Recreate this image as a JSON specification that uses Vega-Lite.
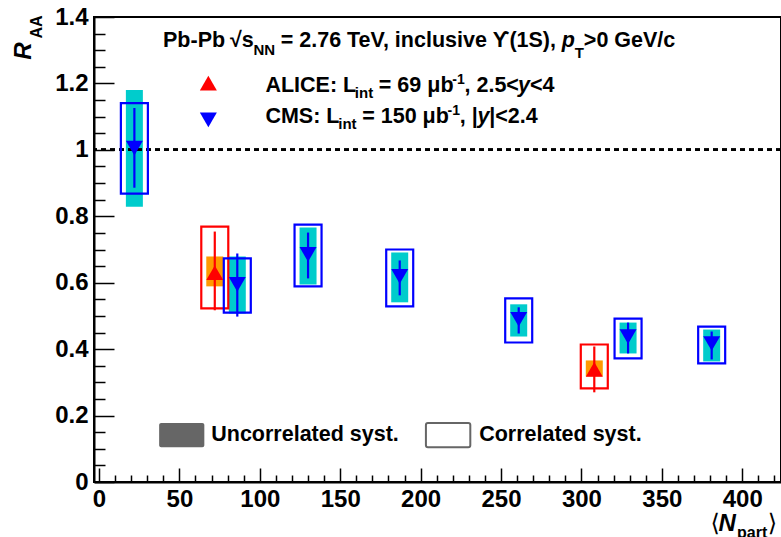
{
  "$schema": "https://vega.github.io/schema/vega-lite/v6.json",
  "width": 687,
  "height": 465,
  "autosize": {"type": "none"},
  "padding": {"left": 94, "top": 17, "right": 0, "bottom": 55},
  "background": "white",
  "config": {"view": {"stroke": "black", "strokeWidth": 2}},
  "resolve": {"axis": {"x": "independent", "y": "independent"}},
  "datasets": {
    "pts": [
      {"exp": "CMS", "npart": 22, "raa": 1.005, "stat_lo": 0.886, "stat_hi": 1.126, "unc_lo": 0.829, "unc_hi": 1.18, "cor_lo": 0.868, "cor_hi": 1.141},
      {"exp": "ALICE", "npart": 72, "raa": 0.63, "stat_lo": 0.517, "stat_hi": 0.754, "unc_lo": 0.589, "unc_hi": 0.679, "cor_lo": 0.523, "cor_hi": 0.769},
      {"exp": "CMS", "npart": 86, "raa": 0.595, "stat_lo": 0.498, "stat_hi": 0.688, "unc_lo": 0.507, "unc_hi": 0.679, "cor_lo": 0.51, "cor_hi": 0.673},
      {"exp": "CMS", "npart": 130, "raa": 0.685, "stat_lo": 0.613, "stat_hi": 0.751, "unc_lo": 0.595, "unc_hi": 0.766, "cor_lo": 0.589, "cor_hi": 0.775},
      {"exp": "CMS", "npart": 187, "raa": 0.619, "stat_lo": 0.562, "stat_hi": 0.667, "unc_lo": 0.541, "unc_hi": 0.691, "cor_lo": 0.529, "cor_hi": 0.7},
      {"exp": "CMS", "npart": 261, "raa": 0.49, "stat_lo": 0.447, "stat_hi": 0.526, "unc_lo": 0.438, "unc_hi": 0.535, "cor_lo": 0.42, "cor_hi": 0.553},
      {"exp": "ALICE", "npart": 308, "raa": 0.339, "stat_lo": 0.27, "stat_hi": 0.408, "unc_lo": 0.318, "unc_hi": 0.366, "cor_lo": 0.282, "cor_hi": 0.414},
      {"exp": "CMS", "npart": 329, "raa": 0.438, "stat_lo": 0.387, "stat_hi": 0.48, "unc_lo": 0.387, "unc_hi": 0.48, "cor_lo": 0.372, "cor_hi": 0.492},
      {"exp": "CMS", "npart": 381, "raa": 0.417, "stat_lo": 0.369, "stat_hi": 0.453, "unc_lo": 0.363, "unc_hi": 0.459, "cor_lo": 0.357, "cor_hi": 0.468}
    ],
    "legmarks": [
      {"exp": "ALICE", "x": 68, "y": 1.201},
      {"exp": "CMS", "x": 68, "y": 1.09}
    ],
    "legboxes": [
      {"kind": "uncorrelated", "x": 37.4, "x2": 65.5, "y": 0.105, "y2": 0.178},
      {"kind": "correlated", "x": 203.3, "x2": 230.9, "y": 0.105, "y2": 0.178}
    ],
    "ann": [
      {"role": "head", "t": "Pb-Pb", "x": 39.8, "y": 1.31},
      {"role": "head", "t": "√", "x": 81.5, "y": 1.31},
      {"role": "head", "t": "s", "x": 88.7, "y": 1.31},
      {"role": "sub", "t": "NN", "x": 96.1, "y": 1.286},
      {"role": "head", "t": "= 2.76 TeV, inclusive ϒ(1S),", "x": 113.0, "y": 1.31},
      {"role": "headit", "t": "p", "x": 287.8, "y": 1.31},
      {"role": "sub", "t": "T", "x": 295.8, "y": 1.277},
      {"role": "head", "t": ">0 GeV/c", "x": 301.5, "y": 1.31},
      {"role": "txt", "t": "ALICE: L", "x": 103.5, "y": 1.174},
      {"role": "sub", "t": "int", "x": 159.1, "y": 1.156},
      {"role": "txt", "t": "= 69 μb", "x": 174.0, "y": 1.174},
      {"role": "sup", "t": "-1", "x": 219.7, "y": 1.198},
      {"role": "txt", "t": ", 2.5<", "x": 227.3, "y": 1.174},
      {"role": "it", "t": "y", "x": 260.6, "y": 1.174},
      {"role": "txt", "t": "<4", "x": 268.0, "y": 1.174},
      {"role": "txt", "t": "CMS: L", "x": 103.5, "y": 1.081},
      {"role": "sub", "t": "int", "x": 148.8, "y": 1.063},
      {"role": "txt", "t": "= 150 μb", "x": 163.7, "y": 1.081},
      {"role": "sup", "t": "-1", "x": 216.7, "y": 1.105},
      {"role": "txt", "t": ", |", "x": 224.3, "y": 1.081},
      {"role": "it", "t": "y", "x": 235.3, "y": 1.081},
      {"role": "txt", "t": "|<2.4", "x": 242.7, "y": 1.081},
      {"role": "txt", "t": "Uncorrelated syst.", "x": 69.8, "y": 0.1235},
      {"role": "txt", "t": "Correlated syst.", "x": 236.4, "y": 0.1235},
      {"role": "bigit", "t": "N", "x": 385.2, "y": -0.1476},
      {"role": "bigsub", "t": "part", "x": 396.8, "y": -0.168},
      {"role": "bracket", "t": "⟨", "x": 380.3, "y": -0.1476},
      {"role": "bracket", "t": "⟩", "x": 415.8, "y": -0.1476}
    ],
    "ytitle": [
      {"role": "big", "t": "R", "x": -42.3, "y": 1.271},
      {"role": "small", "t": "AA", "x": -35.5, "y": 1.335}
    ]
  },
  "layer": [
    {
      "data": {"name": "pts"},
      "mark": {"type": "bar", "width": 17},
      "encoding": {
        "x": {
          "field": "npart", "type": "quantitative",
          "scale": {"domain": [0, 421], "nice": false, "zero": false},
          "axis": {
            "title": null, "orient": "bottom",
            "values": [0, 50, 100, 150, 200, 250, 300, 350, 400],
            "format": "d",
            "tickSize": -14,
            "labelPadding": 19,
            "labelFont": "Liberation Sans", "labelFontWeight": "bold", "labelFontSize": 24, "labelColor": "black",
            "tickColor": "black", "tickWidth": 1.5, "domainColor": "black", "domainWidth": 2,
            "labelOverlap": false, "labelFlush": false, "grid": false
          }
        },
        "y": {
          "field": "unc_lo", "type": "quantitative",
          "scale": {"domain": [0, 1.4], "nice": false, "zero": false},
          "axis": {
            "title": null, "orient": "left",
            "values": [0, 0.2, 0.4, 0.6, 0.8, 1, 1.2, 1.4],
            "format": "~g",
            "tickSize": -20,
            "labelPadding": 26,
            "labelFont": "Liberation Sans", "labelFontWeight": "bold", "labelFontSize": 24, "labelColor": "black",
            "tickColor": "black", "tickWidth": 1.5, "domainColor": "black", "domainWidth": 2,
            "labelOverlap": false, "labelFlush": false, "grid": false
          }
        },
        "y2": {"field": "unc_hi"},
        "fill": {"field": "exp", "type": "nominal", "scale": {"domain": ["ALICE", "CMS"], "range": ["#FF9900", "#00CCCC"]}, "legend": null}
      }
    },
    {
      "data": {"name": "pts"},
      "mark": {"type": "rule", "strokeDash": [5, 4], "strokeWidth": 2, "color": "black"},
      "encoding": {"y": {"datum": 1, "type": "quantitative", "axis": null}}
    },
    {
      "data": {"name": "pts"},
      "mark": {"type": "bar", "width": 27, "filled": false, "strokeWidth": 2.2},
      "encoding": {
        "x": {"field": "npart", "type": "quantitative",
          "axis": {"title": null, "orient": "bottom", "values": [10,20,30,40,60,70,80,90,110,120,130,140,160,170,180,190,210,220,230,240,260,270,280,290,310,320,330,340,360,370,380,390,410,420],
            "tickSize": -7, "labels": false, "domain": false, "tickColor": "black", "tickWidth": 1.5, "grid": false}},
        "y": {"field": "cor_lo", "type": "quantitative",
          "axis": {"title": null, "orient": "left", "values": [0.05,0.1,0.15,0.25,0.3,0.35,0.45,0.5,0.55,0.65,0.7,0.75,0.85,0.9,0.95,1.05,1.1,1.15,1.25,1.3,1.35],
            "tickSize": -11, "labels": false, "domain": false, "tickColor": "black", "tickWidth": 1.5, "grid": false}},
        "y2": {"field": "cor_hi"},
        "stroke": {"field": "exp", "type": "nominal", "scale": {"domain": ["ALICE", "CMS"], "range": ["#FF0000", "#0000FF"]}, "legend": null}
      }
    },
    {
      "data": {"name": "pts"},
      "mark": {"type": "rule", "strokeWidth": 2.2},
      "encoding": {
        "x": {"field": "npart", "type": "quantitative", "axis": null},
        "y": {"field": "stat_lo", "type": "quantitative", "axis": null},
        "y2": {"field": "stat_hi"},
        "color": {"field": "exp", "type": "nominal", "scale": {"domain": ["ALICE", "CMS"], "range": ["#FF0000", "#0000FF"]}, "legend": null}
      }
    },
    {
      "data": {"name": "pts"},
      "mark": {"type": "point", "filled": true, "size": 289, "opacity": 1},
      "encoding": {
        "x": {"field": "npart", "type": "quantitative", "axis": null},
        "y": {"field": "raa", "type": "quantitative", "axis": null},
        "color": {"field": "exp", "type": "nominal", "scale": {"domain": ["ALICE", "CMS"], "range": ["#FF0000", "#0000FF"]}, "legend": null},
        "shape": {"field": "exp", "type": "nominal", "scale": {"domain": ["ALICE", "CMS"], "range": ["triangle-up", "triangle-down"]}, "legend": null}
      }
    },
    {
      "data": {"name": "legmarks"},
      "mark": {"type": "point", "filled": true, "size": 289, "opacity": 1},
      "encoding": {
        "x": {"field": "x", "type": "quantitative", "axis": null},
        "y": {"field": "y", "type": "quantitative", "axis": null},
        "color": {"field": "exp", "type": "nominal", "scale": {"domain": ["ALICE", "CMS"], "range": ["#FF0000", "#0000FF"]}, "legend": null},
        "shape": {"field": "exp", "type": "nominal", "scale": {"domain": ["ALICE", "CMS"], "range": ["triangle-up", "triangle-down"]}, "legend": null}
      }
    },
    {
      "data": {"name": "legboxes"},
      "transform": [{"filter": "datum.kind == 'uncorrelated'"}],
      "mark": {"type": "rect", "color": "#666666", "cornerRadius": 2},
      "encoding": {
        "x": {"field": "x", "type": "quantitative", "axis": null},
        "x2": {"field": "x2"},
        "y": {"field": "y", "type": "quantitative", "axis": null},
        "y2": {"field": "y2"}
      }
    },
    {
      "data": {"name": "legboxes"},
      "transform": [{"filter": "datum.kind == 'correlated'"}],
      "mark": {"type": "rect", "fill": "white", "stroke": "#666666", "strokeWidth": 2, "cornerRadius": 2},
      "encoding": {
        "x": {"field": "x", "type": "quantitative", "axis": null},
        "x2": {"field": "x2"},
        "y": {"field": "y", "type": "quantitative", "axis": null},
        "y2": {"field": "y2"}
      }
    },
    {
      "data": {"name": "ann"},
      "transform": [{"filter": "datum.role == 'head'"}],
      "mark": {"type": "text", "align": "left", "baseline": "alphabetic", "font": "Liberation Sans", "fontWeight": "bold", "fontSize": 21.5, "color": "black"},
      "encoding": {"x": {"field": "x", "type": "quantitative", "axis": null}, "y": {"field": "y", "type": "quantitative", "axis": null}, "text": {"field": "t"}}
    },
    {
      "data": {"name": "ann"},
      "transform": [{"filter": "datum.role == 'headit'"}],
      "mark": {"type": "text", "align": "left", "baseline": "alphabetic", "font": "Liberation Sans", "fontWeight": "bold", "fontStyle": "italic", "fontSize": 21.5, "color": "black"},
      "encoding": {"x": {"field": "x", "type": "quantitative", "axis": null}, "y": {"field": "y", "type": "quantitative", "axis": null}, "text": {"field": "t"}}
    },
    {
      "data": {"name": "ann"},
      "transform": [{"filter": "datum.role == 'txt'"}],
      "mark": {"type": "text", "align": "left", "baseline": "alphabetic", "font": "Liberation Sans", "fontWeight": "bold", "fontSize": 21.5, "color": "black"},
      "encoding": {"x": {"field": "x", "type": "quantitative", "axis": null}, "y": {"field": "y", "type": "quantitative", "axis": null}, "text": {"field": "t"}}
    },
    {
      "data": {"name": "ann"},
      "transform": [{"filter": "datum.role == 'it'"}],
      "mark": {"type": "text", "align": "left", "baseline": "alphabetic", "font": "Liberation Sans", "fontWeight": "bold", "fontStyle": "italic", "fontSize": 21.5, "color": "black"},
      "encoding": {"x": {"field": "x", "type": "quantitative", "axis": null}, "y": {"field": "y", "type": "quantitative", "axis": null}, "text": {"field": "t"}}
    },
    {
      "data": {"name": "ann"},
      "transform": [{"filter": "datum.role == 'sub'"}],
      "mark": {"type": "text", "align": "left", "baseline": "alphabetic", "font": "Liberation Sans", "fontWeight": "bold", "fontSize": 15, "color": "black"},
      "encoding": {"x": {"field": "x", "type": "quantitative", "axis": null}, "y": {"field": "y", "type": "quantitative", "axis": null}, "text": {"field": "t"}}
    },
    {
      "data": {"name": "ann"},
      "transform": [{"filter": "datum.role == 'sup'"}],
      "mark": {"type": "text", "align": "left", "baseline": "alphabetic", "font": "Liberation Sans", "fontWeight": "bold", "fontSize": 14, "color": "black"},
      "encoding": {"x": {"field": "x", "type": "quantitative", "axis": null}, "y": {"field": "y", "type": "quantitative", "axis": null}, "text": {"field": "t"}}
    },
    {
      "data": {"name": "ann"},
      "transform": [{"filter": "datum.role == 'bigit'"}],
      "mark": {"type": "text", "align": "left", "baseline": "alphabetic", "font": "Liberation Sans", "fontWeight": "bold", "fontStyle": "italic", "fontSize": 24, "color": "black"},
      "encoding": {"x": {"field": "x", "type": "quantitative", "axis": null}, "y": {"field": "y", "type": "quantitative", "axis": null}, "text": {"field": "t"}}
    },
    {
      "data": {"name": "ann"},
      "transform": [{"filter": "datum.role == 'bigsub'"}],
      "mark": {"type": "text", "align": "left", "baseline": "alphabetic", "font": "Liberation Sans", "fontWeight": "bold", "fontSize": 16, "color": "black"},
      "encoding": {"x": {"field": "x", "type": "quantitative", "axis": null}, "y": {"field": "y", "type": "quantitative", "axis": null}, "text": {"field": "t"}}
    },
    {
      "data": {"name": "ann"},
      "transform": [{"filter": "datum.role == 'bracket'"}],
      "mark": {"type": "text", "align": "left", "baseline": "alphabetic", "font": "DejaVu Sans", "fontSize": 24, "color": "black"},
      "encoding": {"x": {"field": "x", "type": "quantitative", "axis": null}, "y": {"field": "y", "type": "quantitative", "axis": null}, "text": {"field": "t"}}
    },
    {
      "data": {"name": "ytitle"},
      "transform": [{"filter": "datum.role == 'big'"}],
      "mark": {"type": "text", "align": "left", "baseline": "alphabetic", "angle": 270, "font": "Liberation Sans", "fontWeight": "bold", "fontStyle": "italic", "fontSize": 24, "color": "black"},
      "encoding": {"x": {"field": "x", "type": "quantitative", "axis": null}, "y": {"field": "y", "type": "quantitative", "axis": null}, "text": {"field": "t"}}
    },
    {
      "data": {"name": "ytitle"},
      "transform": [{"filter": "datum.role == 'small'"}],
      "mark": {"type": "text", "align": "left", "baseline": "alphabetic", "angle": 270, "font": "Liberation Sans", "fontWeight": "bold", "fontSize": 16, "color": "black"},
      "encoding": {"x": {"field": "x", "type": "quantitative", "axis": null}, "y": {"field": "y", "type": "quantitative", "axis": null}, "text": {"field": "t"}}
    }
  ]
}
